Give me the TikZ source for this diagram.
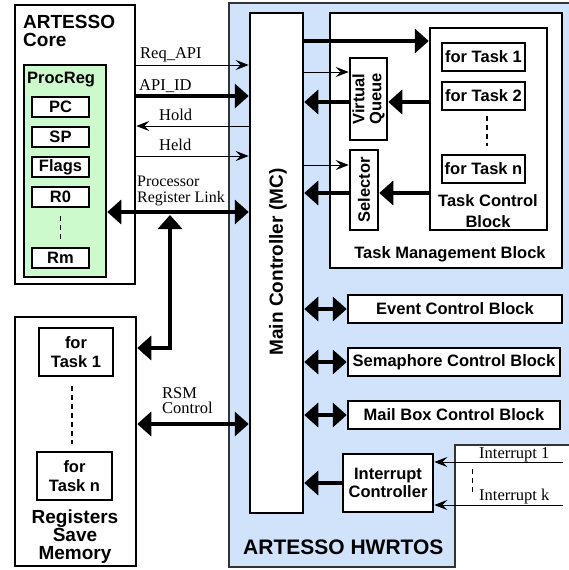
\documentclass[tikz,border=0pt]{standalone}
\usepackage{fontspec}
\setmainfont{Liberation Serif}
\setsansfont{Liberation Sans}
\usetikzlibrary{arrows.meta}
\definecolor{hwblue}{RGB}{208,227,250}
\definecolor{regreen}{RGB}{205,250,205}
\begin{document}
\begin{tikzpicture}[x=1pt,y=-1pt,
  box/.style={draw=black, line width=2.5pt, fill=white, inner sep=0pt, align=center,
    font=\sffamily\bfseries\fontsize{16.5}{18.5}\selectfont},
  bold/.style={inner sep=0pt, align=center, font=\sffamily\bfseries\fontsize{16.5}{18.5}\selectfont},
  lbl/.style={inner sep=0pt, align=left, font=\rmfamily\fontsize{16.5}{14.5}\selectfont},
  thinarrow/.style={line width=1pt, -{Stealth[length=13pt,width=10pt,inset=5pt]}},
  thickarrow/.style={line width=4.5pt, -{Triangle[length=14pt,width=24pt]}},
  thickboth/.style={line width=4.5pt, {Triangle[length=14pt,width=24pt]}-{Triangle[length=14pt,width=24pt]}},
  dashline/.style={line width=1.2pt, dash pattern=on 5pt off 4pt},
]
\useasboundingbox (0,0) rectangle (569,570);
\fill[white] (0,0) rectangle (569,570);
% HWRTOS region
\filldraw[fill=hwblue, draw=black!80, line width=1.5pt]
  (569,3) -- (229,3) -- (229,567) -- (455,567) -- (455,445) -- (569,445);
\node[anchor=base west, inner sep=0pt, font=\sffamily\bfseries\fontsize{21}{21}\selectfont] (hwlbl) at (243,554) {ARTESSO HWRTOS};

% ARTESSO Core
\node[box, minimum width=120pt, minimum height=279pt] (core) at (75,144.5) {};
\node[bold, align=left, anchor=north west, font=\sffamily\bfseries\fontsize{19}{18}\selectfont] (corelbl) at (23,15) {ARTESSO\\Core};
\node[box, fill=regreen, minimum width=82pt, minimum height=212pt] (procreg) at (65,171) {};
\node[bold, anchor=north west] (proclbl) at (27,72) {ProcReg};
\node[box, minimum width=57pt, minimum height=20pt] (pc) at (60.5,107) {PC};
\node[box, minimum width=57pt, minimum height=20pt] (sp) at (60.5,137) {SP};
\node[box, minimum width=57pt, minimum height=20pt] (flags) at (60.5,167) {Flags};
\node[box, minimum width=57pt, minimum height=20pt] (r0) at (60.5,197) {R0};
\node[box, minimum width=57pt, minimum height=20pt] (rm) at (60.5,258) {Rm};
\draw[dashline] ([shift={(0,8)}]r0.south) -- ([shift={(0,-8)}]rm.north);

% Registers Save Memory
\node[box, minimum width=121pt, minimum height=249pt] (rsm) at (75.5,441.5) {};
\node[box, minimum width=74pt, minimum height=48pt] (rt1) at (76,352) {for\\Task 1};
\node[box, minimum width=75pt, minimum height=48pt] (rtn) at (74.5,476) {for\\Task n};
\draw[dashline] ([shift={(-4,9)}]rt1.south) -- ([shift={(-2.5,-7)}]rtn.north);
\node[bold, anchor=north, font=\sffamily\bfseries\fontsize{19}{18}\selectfont] (rsmlbl) at (75,510) {Registers\\Save\\Memory};

% Main controller
\node[box, minimum width=53pt, minimum height=500pt] (mc) at (276.5,263) {};
\node[bold, rotate=90, font=\sffamily\bfseries\fontsize{19}{19}\selectfont] (mclbl) at (278,262) {Main Controller (MC)};

% Task management
\node[box, minimum width=232pt, minimum height=255pt] (tmb) at (446,140.5) {};
\node[bold] (tmblbl) at (450,254) {Task Management Block};
\node[box, minimum width=117pt, minimum height=202pt] (tcb) at (488.5,129) {};
\node[bold, font=\sffamily\bfseries\fontsize{16.5}{21}\selectfont] (tcblbl) at (488,211.5) {Task Control\\Block};
\node[box, minimum width=83pt, minimum height=28pt] (t1) at (483.5,57) {for Task 1};
\node[box, minimum width=83pt, minimum height=28pt] (t2) at (483.5,96) {for Task 2};
\node[box, minimum width=83pt, minimum height=28pt] (tn) at (483.5,169) {for Task n};
\draw[line width=2.5pt, dash pattern=on 5pt off 4pt] ([shift={(3.5,5)}]t2.south) -- ([shift={(3.5,-8)}]tn.north);
\node[box, minimum width=37pt, minimum height=82pt] (vq) at (368.5,99) {};
\node[bold, rotate=90, font=\sffamily\bfseries\fontsize{16.5}{17}\selectfont] (vqlbl) at (368.5,99) {Virtual\\Queue};
\node[box, minimum width=28pt, minimum height=80pt] (sel) at (364,190) {};
\node[bold, rotate=90] (sellbl) at (364,190) {Selector};

% Control blocks
\node[box, minimum width=214pt, minimum height=28pt] (event) at (455,309) {Event Control Block};
\node[box, minimum width=212pt, minimum height=28pt] (sem) at (454,362) {Semaphore Control Block};
\node[box, minimum width=212pt, minimum height=28pt] (mail) at (454,415) {Mail Box Control Block};
\node[box, minimum width=90pt, minimum height=58pt] (ic) at (388,483) {Interrupt\\Controller};

% y levels
\coordinate (yReq) at (0,65);
\coordinate (yApi) at (0,96);
\coordinate (yHold) at (0,126);
\coordinate (yHeld) at (0,156);
\coordinate (yPrl) at (0,212);
\coordinate (yUp) at (0,348);
\coordinate (yRsm) at (0,424);
\coordinate (yTcb) at (0,41);
\coordinate (yVq) at (0,72);
\coordinate (yVq2) at (0,102);
\coordinate (ySel) at (0,165);
\coordinate (ySel2) at (0,193);
\coordinate (prlup) at (170,215);
\coordinate (int1) at (563,462);
\coordinate (intk) at (563,505);

% core <-> MC
\draw[thinarrow] (core.east |- yReq) -- (mc.west |- yReq);
\draw[thickarrow] (core.east |- yApi) -- (mc.west |- yApi);
\draw[thinarrow] (mc.west |- yHold) -- (core.east |- yHold);
\draw[thinarrow] (core.east |- yHeld) -- (mc.west |- yHeld);
\draw[thickboth] (procreg.east |- yPrl) -- (mc.west |- yPrl);
\draw[thickboth] (rsm.east |- yUp) -| (prlup);
\draw[thickboth] (rsm.east |- yRsm) -- (mc.west |- yRsm);

\node[lbl, anchor=base west] (lreq) at (140,58) {Req\_API};
\node[lbl, anchor=base west] (lapi) at (139,90) {API\_ID};
\node[lbl, anchor=base west] (lhold) at (159,120) {Hold};
\node[lbl, anchor=base west] (lheld) at (159,150) {Held};
\node[lbl, anchor=north west, font=\rmfamily\fontsize{16}{15.5}\selectfont] (lprl) at (137,176) {Processor\\Register Link};
\node[lbl, anchor=north west, font=\rmfamily\fontsize{16.5}{15.5}\selectfont] (lrsm) at (162,387) {RSM\\Control};

% MC <-> task management
\draw[thickarrow] (mc.east |- yTcb) -- (tcb.west |- yTcb);
\draw[thinarrow] (mc.east |- yVq) -- (vq.west |- yVq);
\draw[thickarrow] (tcb.west |- yVq2) -- (vq.east |- yVq2);
\draw[thickarrow] (vq.west |- yVq2) -- (mc.east |- yVq2);
\draw[thinarrow] (mc.east |- ySel) -- (sel.west |- ySel);
\draw[thickarrow] (tcb.west |- ySel2) -- (sel.east |- ySel2);
\draw[thickarrow] (sel.west |- ySel2) -- (mc.east |- ySel2);

% MC <-> control blocks
\draw[thickboth] (mc.east |- event.west) -- (event.west);
\draw[thickboth] (mc.east |- sem.west) -- (sem.west);
\draw[thickboth] (mc.east |- mail.west) -- (mail.west);
\draw[thickarrow] (ic.west) -- (mc.east |- ic.west);

% interrupts
\draw[thinarrow] (int1) -- (ic.east |- int1);
\draw[thinarrow] (intk) -- (ic.east |- intk);
\draw[line width=1pt, dash pattern=on 5pt off 4pt] (472,469) -- (472,494);
\node[lbl, anchor=base west] (li1) at (479,458) {Interrupt 1};
\node[lbl, anchor=base west] (lik) at (479,500) {Interrupt k};
\end{tikzpicture}
\end{document}
